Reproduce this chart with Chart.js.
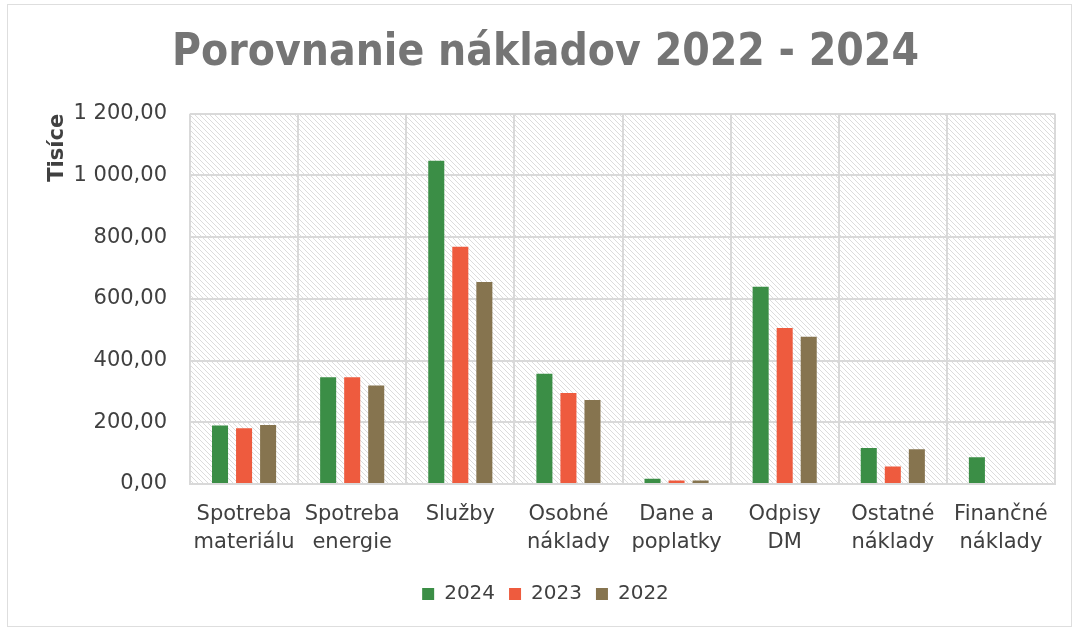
<!DOCTYPE html>
<html>
<head>
<meta charset="utf-8">
<script src="https://cdn.jsdelivr.net/npm/chart.js@4.4.1/dist/chart.umd.min.js"></script>
<style>
  html, body { margin: 0; padding: 0; background: #fff; }
  #wrap { width: 1074px; height: 628px; }
</style>
</head>
<body>
<div id="wrap"><canvas id="chart" width="1074" height="628"></canvas></div>
<script>
// data (thousands)
const categories = [
  ["Spotreba", "materiálu"],
  ["Spotreba", "energie"],
  "Služby",
  ["Osobné", "náklady"],
  ["Dane a", "poplatky"],
  ["Odpisy", "DM"],
  ["Ostatné", "náklady"],
  ["Finančné", "náklady"]
];
const values2024 = [190, 346, 1048, 357, 17, 639, 117, 87];
const values2023 = [181, 346, 769, 295, 11, 506, 57, 0];
const values2022 = [191, 319, 655, 272, 11, 477, 113, 0];
const yTickLabels = ["0,00", "200,00", "400,00", "600,00", "800,00", "1 000,00", "1 200,00"];

const fontFamily = "'DejaVu Sans', sans-serif";
const titleFamily = "'DejaVu Sans Condensed', 'DejaVu Sans', sans-serif";
const textColor = "#404040";
const gridColor = "#d9d9d9";

// diagonal hatch behind the plot
function makeHatch() {
  const c = document.createElement("canvas");
  c.width = 5;
  c.height = 5;
  const g = c.getContext("2d");
  g.fillStyle = "#ffffff";
  g.fillRect(0, 0, 5, 5);
  g.strokeStyle = "#dcdcdc";
  g.lineWidth = 1;
  g.beginPath();
  g.moveTo(-1, -1); g.lineTo(6, 6);
  g.moveTo(-1, 4); g.lineTo(1, 6);
  g.moveTo(4, -1); g.lineTo(6, 1);
  g.stroke();
  return g.createPattern(c, "repeat");
}

const backdrop = {
  id: "backdrop",
  beforeDraw(chart) {
    const { ctx, chartArea: a } = chart;
    ctx.save();
    ctx.fillStyle = "#fff";
    ctx.fillRect(0, 0, chart.width, chart.height);
    ctx.strokeStyle = "#dedede";
    ctx.lineWidth = 1;
    ctx.strokeRect(7.5, 4.5, 1064, 622);
    ctx.fillStyle = makeHatch();
    ctx.fillRect(a.left, a.top, a.right - a.left, a.bottom - a.top);
    ctx.restore();
  }
};

new Chart(document.getElementById("chart"), {
  type: "bar",
  data: {
    labels: categories,
    datasets: [
      { label: "2024", data: values2024, backgroundColor: "#3b8e46" },
      { label: "2023", data: values2023, backgroundColor: "#ee5b3e" },
      { label: "2022", data: values2022, backgroundColor: "#86744f" }
    ]
  },
  options: {
    responsive: false,
    animation: false,
    layout: { padding: { left: 36, right: 19, top: 0, bottom: 14 } },
    datasets: { bar: { categoryPercentage: 0.667, barPercentage: 0.667 } },
    plugins: {
      title: {
        display: true,
        text: "Porovnanie nákladov 2022 - 2024",
        color: "#757575",
        font: { family: titleFamily, size: 44, weight: "bold", lineHeight: 1.2 },
        padding: { top: 27, bottom: 34 }
      },
      legend: {
        position: "bottom",
        labels: {
          color: textColor,
          font: { family: fontFamily, size: 20 },
          boxWidth: 12,
          boxHeight: 12,
          padding: 14
        }
      },
      tooltip: { enabled: false }
    },
    scales: {
      x: {
        grid: { color: gridColor, lineWidth: 2, drawTicks: false },
        border: { color: gridColor, width: 2 },
        ticks: {
          color: textColor,
          font: { family: fontFamily, size: 21, lineHeight: 1.35 },
          padding: 16,
          maxRotation: 0,
          autoSkip: false
        },
        afterFit(scale) { scale.height = 86; }
      },
      y: {
        min: 0,
        max: 1200,
        ticks: {
          stepSize: 200,
          color: textColor,
          font: { family: fontFamily, size: 21 },
          padding: 23,
          callback: (v, i) => yTickLabels[i]
        },
        grid: { color: gridColor, lineWidth: 2, drawTicks: false },
        border: { display: false },
        title: {
          display: true,
          text: "Tisíce",
          align: "end",
          color: textColor,
          font: { family: fontFamily, size: 21, weight: "bold" },
          padding: { top: 9 }
        },
        afterFit(scale) { scale.width = 154; }
      }
    }
  },
  plugins: [backdrop]
});
</script>
</body>
</html>
